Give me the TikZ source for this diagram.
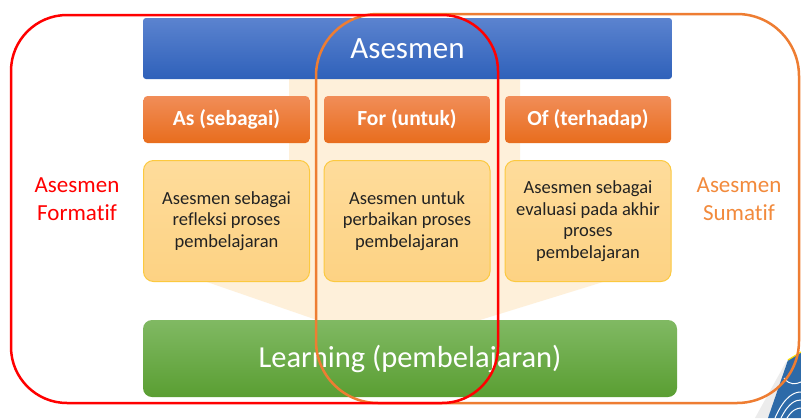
\documentclass[tikz,border=0pt]{standalone}
\usepackage{fontspec}
\setmainfont{Carlito}[Ligatures=NoCommon]
\usetikzlibrary{shapes.misc}
\definecolor{creamc}{HTML}{FEF0DA}
\definecolor{bluetop}{HTML}{5B83CF}
\definecolor{bluebot}{HTML}{2F61BA}
\definecolor{ortop}{HTML}{F18D58}
\definecolor{orbot}{HTML}{E86D1D}
\definecolor{yeltop}{HTML}{FEDC9B}
\definecolor{yelbot}{HTML}{FDD283}
\definecolor{yelline}{HTML}{FCC93F}
\definecolor{grtop}{HTML}{80B963}
\definecolor{grbot}{HTML}{5A9E32}
\definecolor{sumc}{HTML}{F28A3C}
\definecolor{orline}{HTML}{EE7D32}
\definecolor{textdark}{HTML}{222222}
\definecolor{embl}{HTML}{2D6AA8}
\tikzset{
  mainbar/.style={rectangle, rounded corners=3pt, top color=bluetop, bottom color=bluebot, draw=none,
    minimum width=529pt, minimum height=61pt, text=white, font=\fontsize{31}{36}\selectfont, inner sep=0pt},
  headbox/.style={rectangle, rounded corners=4pt, top color=ortop, bottom color=orbot, draw=none,
    minimum width=166pt, minimum height=47pt, text=white, font=\fontsize{21.5}{26}\selectfont\bfseries, inner sep=0pt},
  descbox/.style={rectangle, rounded corners=10pt, top color=yeltop, bottom color=yelbot, draw=yelline, line width=1pt,
    minimum width=166pt, minimum height=121pt, text=textdark, align=center, font=\fontsize{18.5}{21.5}\selectfont, inner sep=0pt},
  learnbar/.style={rectangle, rounded corners=9pt, top color=grtop, bottom color=grbot, draw=none,
    minimum width=534pt, minimum height=77pt, text=white, font=\fontsize{30.5}{36}\selectfont, inner sep=0pt},
  sidelabel/.style={align=center, font=\fontsize{23}{28}\selectfont, inner sep=0pt},
}
\begin{document}
\begin{tikzpicture}[x=1pt,y=-1pt]
\useasboundingbox (0,0) rectangle (801,418);
\fill[white] (0,0) rectangle (801,418);
% decorative emblem in corner
\begin{scope}
\clip (0,0) rectangle (801,418);
\fill[gray!15] (755,418) -- (786,362) -- (790,362) -- (768,418) -- cycle;
\fill[embl] (768,418) -- (788,360) -- (801,352) -- (801,418) -- cycle;
\draw[white, line width=1pt] (775,418) .. controls (785,395) and (795,392) .. (801,392);
\draw[white, line width=1pt] (781,418) .. controls (789,402) and (796,400) .. (801,400);
\draw[white, line width=1pt] (787,418) .. controls (792,410) and (797,408) .. (801,408);
\draw[white, line width=1pt] (784,378) .. controls (790,386) and (796,384) .. (801,382);
\draw[yellow!80!orange, line width=1.2pt] (788,360) -- (801,352);
\end{scope}
% cream funnel background
\fill[creamc] (289,79) -- (520,79) -- (520,200) -- (603,282) -- (480,320) -- (317,320) -- (207,282) -- (289,200) -- cycle;
% main nodes
\node[mainbar] (asesmen) at (407.5,48.5) {Asesmen};
\node[headbox] (as) at (226.5,119.5) {As (sebagai)};
\node[headbox] (for) at (407,119.5) {For (untuk)};
\node[headbox] (of) at (588,119.5) {Of (terhadap)};
\node[descbox] (asd) at (226.5,221) {Asesmen sebagai\\refleksi proses\\pembelajaran};
\node[descbox] (ford) at (407,221) {Asesmen untuk\\perbaikan proses\\pembelajaran};
\node[descbox] (ofd) at (588,221) {Asesmen sebagai\\evaluasi pada akhir\\proses\\pembelajaran};
\node[learnbar] (learn) at (410,358.5) {Learning (pembelajaran)};
% side labels
\node[sidelabel, text=red] (formatif) at (77,199) {Asesmen\\Formatif};
\node[sidelabel, text=sumc] (sumatif) at (739,199) {Asesmen\\Sumatif};
% enclosing frames
\draw[orline, line width=2.5pt, rounded corners=62pt] (316,14) rectangle (799,403);
\draw[red, line width=2.5pt, rounded corners=56pt] (11,15) rectangle (498,403);
\end{tikzpicture}
\end{document}
